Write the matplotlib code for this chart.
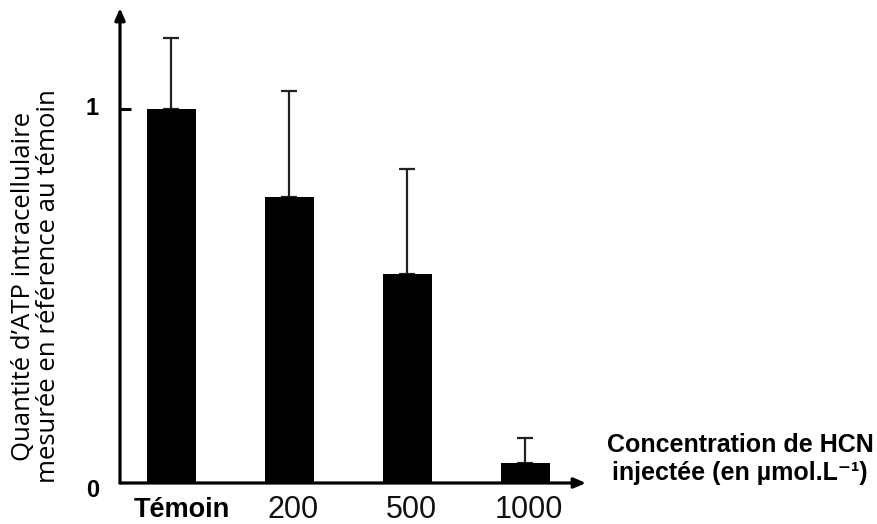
import matplotlib
matplotlib.use("Agg")
import matplotlib.pyplot as plt

categories = ["Témoin", "200", "500", "1000"]
atp = [1.0, 0.765, 0.56, 0.053]
err_up = [0.19, 0.283, 0.28, 0.066]

W, H = 877, 524
fig = plt.figure(figsize=(W / 100, H / 100), dpi=100)
# axes box in pixels: left edge 120, baseline 483 from top, arrow tips at x=586 / y=8
ax = fig.add_axes([120 / W, 41 / H, 466 / W, 475 / H])
ax.set_xlim(-0.436, 3.513)
ax.set_ylim(0, 1.27)
for s in ax.spines.values():
    s.set_visible(False)

x = list(range(len(categories)))
ax.bar(x, atp, width=0.415, color="black", zorder=3)
ax.errorbar(x, atp, yerr=[[0] * len(atp), err_up], fmt="none", ecolor="#222222",
            elinewidth=1.6, capsize=5.5, capthick=1.6, zorder=2)

# axes with arrow heads
arrow = dict(arrowstyle="-|>,head_length=0.7,head_width=0.3", lw=2.3, color="black",
             shrinkA=0, shrinkB=0)
ax.annotate("", xy=(0, 1), xytext=(0, 0), xycoords="axes fraction", arrowprops=arrow)
ax.annotate("", xy=(1, 0), xytext=(0, 0), xycoords="axes fraction", arrowprops=arrow)

ax.set_xticks([])
ax.set_yticks([1])
ax.set_yticklabels([])
ax.tick_params(axis="y", direction="in", length=8, width=2.2, color="black")

ytr = ax.get_yaxis_transform()
ax.text(-0.045, 1, "1", transform=ytr, ha="right", va="center", fontsize=17,
        fontweight="bold", family="Liberation Sans")
ax.text(-0.045, -0.02, "0", transform=ytr, ha="right", va="center", fontsize=17,
        fontweight="bold", family="Liberation Sans")

xtr = ax.get_xaxis_transform()
for i, lab in enumerate(categories):
    if i == 0:
        ax.text(i + 0.09, -0.057, lab, transform=xtr, ha="center", va="center",
                fontsize=19.5, fontweight="bold", family="Liberation Sans")
    else:
        ax.text(i + 0.03, -0.057, lab, transform=xtr, ha="center", va="center",
                fontsize=22, family="Liberation Sans", color="#111111")

fig.text(740 / W, 1 - 459 / H, "Concentration de HCN\ninjectée (en µmol.L\u207b\u00b9)",
         ha="center", va="center", fontsize=18, fontweight="bold",
         family=["Liberation Sans", "DejaVu Sans"], linespacing=1.25)

fig.text(36 / W, 1 - 286 / H,
         "Quantité d\u2019ATP intracellulaire\nmesurée en référence au témoin",
         rotation=90, ha="center", va="center", fontsize=18.5, family="Open Sans",
         linespacing=1.0)

fig.savefig("out.png", dpi=100)
